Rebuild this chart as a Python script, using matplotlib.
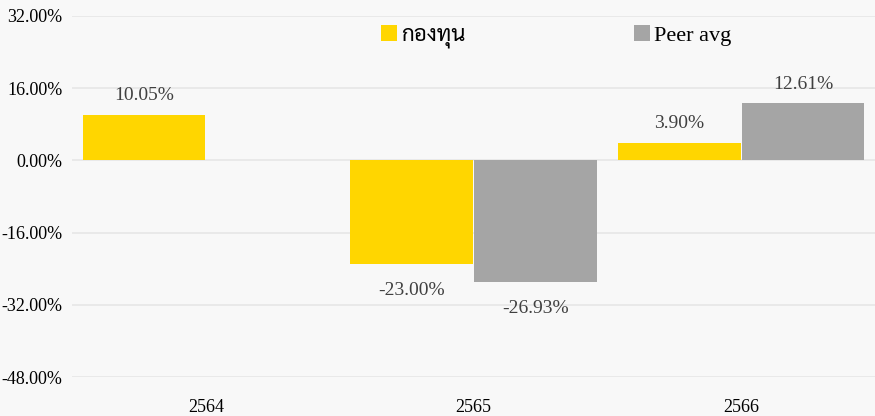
import numpy as np
import matplotlib
matplotlib.use("Agg")
from matplotlib import pyplot as plt
from matplotlib.ticker import FuncFormatter

years = ['2564', '2565', '2566']
fund = [10.05, -23.00, 3.90]
peer = [np.nan, -26.93, 12.61]
series_names = ['กองทุน', 'Peer avg']
yticks = [-48, -32, -16, 0, 16, 32]

# Thai glyphs fall back to Sarabun
plt.rcParams['font.family'] = ['Liberation Serif', 'Sarabun', 'DejaVu Sans']

fig = plt.figure(figsize=(8.75, 4.16), dpi=100, facecolor='#f8f8f8')
ax = fig.add_axes([72 / 875, 39 / 416, 1 - 72 / 875, 361 / 416])
ax.set_facecolor('#f8f8f8')

x = np.arange(len(years))
w = 0.459
off = 0.231
b1 = ax.bar(x - off, fund, w, color='#ffd600', label=series_names[0], zorder=3)
b2 = ax.bar(x + off, peer, w, color='#a5a5a5', label=series_names[1], zorder=3)

# value labels
for bars, vals in ((b1, fund), (b2, peer)):
    for rect, v in zip(bars, vals):
        if np.isnan(v):
            continue
        cx = rect.get_x() + rect.get_width() / 2
        dy = 14 if v >= 0 else -19
        ax.annotate(f'{v:.2f}%', (cx, v), xytext=(0, dy), textcoords='offset points',
                    ha='center', va='center', fontsize=14, color='#404040')

ax.set_xlim(-0.5, 2.5)
ax.set_ylim(-48, 32)
ax.set_yticks(yticks)
ax.yaxis.set_major_formatter(FuncFormatter(lambda v, p: f'{v:.2f}%'))
ax.set_xticks(x)
ax.set_xticklabels(years)
ax.grid(axis='y', color='#e6e6e6', linewidth=1.2, zorder=0)
for s in ax.spines.values():
    s.set_visible(False)
ax.tick_params(axis='both', length=0, labelsize=13, colors='black')
ax.tick_params(axis='x', pad=16)
ax.tick_params(axis='y', pad=7)

leg = ax.legend(loc='upper center', bbox_to_anchor=(0.603, 1.03), ncol=2, frameon=False,
                fontsize=16, handlelength=0.7, handleheight=0.7, handletextpad=0.2,
                columnspacing=7.6)

fig.savefig('out.png', dpi=100, facecolor=fig.get_facecolor())
